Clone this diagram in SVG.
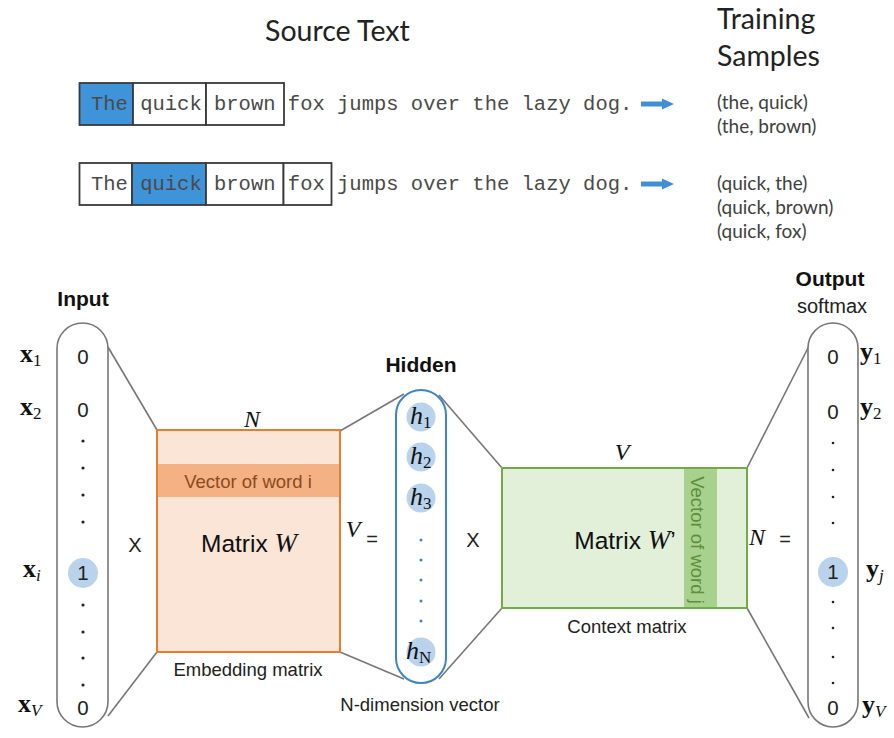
<svg xmlns="http://www.w3.org/2000/svg" width="894" height="738" viewBox="0 0 894 738">
  <defs>
    <style>
      .title { font-family: Lato, "Open Sans", sans-serif; font-size: 28.5px; fill: #222; }
      .sample { font-family: Lato, "Open Sans", sans-serif; font-size: 19px; fill: #404040; }
      .mono { font-family: "Liberation Mono", "DejaVu Sans Mono", monospace; font-size: 20.5px; fill: #4a4a4a; }
      .cell { fill: #fff; stroke: #3a3a3a; stroke-width: 1.8; }
      .cell.hi { fill: #3f93d8; }
      .head { font-family: "Liberation Sans", Arial, sans-serif; font-size: 21px; font-weight: bold; fill: #111; text-anchor: middle; }
      .lbl { font-family: "Liberation Sans", Arial, sans-serif; font-size: 18.5px; fill: #222; text-anchor: middle; }
      .num { font-family: "Liberation Sans", Arial, sans-serif; font-size: 20.5px; fill: #222; text-anchor: middle; }
      .op { font-family: "Liberation Sans", Arial, sans-serif; font-size: 20px; fill: #222; text-anchor: middle; }
      .mat { font-family: "Liberation Sans", Arial, sans-serif; font-size: 24.5px; fill: #111; text-anchor: middle; }
      .mi { font-family: "Liberation Serif", "Times New Roman", serif; font-style: italic; font-size: 27px; }
      .dim { font-family: "Liberation Serif", "Times New Roman", serif; font-style: italic; font-size: 24px; fill: #111; text-anchor: middle; }
      .vec { font-family: "Liberation Serif", "Times New Roman", serif; font-weight: bold; font-size: 26px; fill: #111; }
      .sub { font-weight: normal; font-size: 17px; }
      .subi { font-weight: normal; font-style: italic; font-size: 17px; }
      .hv { font-family: "Liberation Serif", "Times New Roman", serif; font-style: italic; font-size: 26px; fill: #111; }
      .hsub { font-style: normal; font-size: 17px; }
      .pill { fill: #fff; stroke: #777; stroke-width: 1.6; }
      .pill.blue { stroke: #3d85c6; stroke-width: 2; }
      .dot { fill: #222; }
      .bdot { fill: #3d85c6; }
      .hot { fill: #b9d3ec; }
      .link { stroke: #777; stroke-width: 1.6; fill: none; }
      .arrow { stroke: #3f8fd4; stroke-width: 5; fill: none; }
      .arrowhead { fill: #3f8fd4; }
    </style>
  </defs>

  <!-- Source text with the sliding context window -->
  <text class="title" x="265" y="41">Source Text</text>

  <g id="window-1">
    <rect class="cell hi" x="79.5" y="83" width="53.5" height="42"/>
    <rect class="cell" x="133" y="83" width="73" height="42"/>
    <rect class="cell" x="206" y="83" width="78" height="42"/>
    <text class="mono" x="91" y="110">The quick brown fox jumps over the lazy dog.</text>
    <line class="arrow" x1="641" y1="104" x2="664" y2="104"/>
    <polygon class="arrowhead" points="662,98.5 674,104 662,109.5"/>
  </g>

  <g id="window-2">
    <rect class="cell" x="79.5" y="163" width="52.5" height="42"/>
    <rect class="cell hi" x="132" y="163" width="74" height="42"/>
    <rect class="cell" x="206" y="163" width="77.5" height="42"/>
    <rect class="cell" x="283.5" y="163" width="48" height="42"/>
    <text class="mono" x="91" y="190">The quick brown fox jumps over the lazy dog.</text>
    <line class="arrow" x1="641" y1="184" x2="664" y2="184"/>
    <polygon class="arrowhead" points="662,178.5 674,184 662,189.5"/>
  </g>

  <g id="training-samples">
    <text class="title" x="717" y="29">Training</text>
    <text class="title" x="717" y="66">Samples</text>
    <text class="sample" x="717" y="109">(the, quick)</text>
    <text class="sample" x="717" y="133">(the, brown)</text>
    <text class="sample" x="717" y="190">(quick, the)</text>
    <text class="sample" x="717" y="214">(quick, brown)</text>
    <text class="sample" x="717" y="238">(quick, fox)</text>
  </g>

  <!-- Connectors between the network layers -->
  <g id="connectors">
    <line class="link" x1="108" y1="347" x2="157" y2="430"/>
    <line class="link" x1="108" y1="716" x2="157" y2="652"/>
    <line class="link" x1="340" y1="431" x2="404" y2="394"/>
    <line class="link" x1="340" y1="652" x2="404" y2="679"/>
    <line class="link" x1="439" y1="395" x2="502" y2="468"/>
    <line class="link" x1="439" y1="679" x2="502" y2="608"/>
    <line class="link" x1="747" y1="468" x2="809" y2="346"/>
    <line class="link" x1="747" y1="608" x2="809" y2="718"/>
  </g>

  <!-- Input one-hot vector -->
  <g id="input">
    <text class="head" x="83" y="306">Input</text>
    <rect class="pill" x="57" y="323" width="51" height="404" rx="25.5"/>
    <text class="num" x="83" y="364">0</text>
    <text class="num" x="83" y="417">0</text>
    <circle class="dot" cx="83" cy="441" r="1.6"/>
    <circle class="dot" cx="83" cy="468" r="1.6"/>
    <circle class="dot" cx="83" cy="495" r="1.6"/>
    <circle class="dot" cx="83" cy="522" r="1.6"/>
    <circle class="hot" cx="83" cy="573" r="15"/>
    <text class="num" x="83" y="580">1</text>
    <circle class="dot" cx="83" cy="605" r="1.6"/>
    <circle class="dot" cx="83" cy="632" r="1.6"/>
    <circle class="dot" cx="83" cy="658" r="1.6"/>
    <circle class="dot" cx="83" cy="685" r="1.6"/>
    <text class="num" x="83" y="715">0</text>
    <text class="vec" x="20" y="362">x<tspan class="sub" dy="4">1</tspan></text>
    <text class="vec" x="20" y="415">x<tspan class="sub" dy="4">2</tspan></text>
    <text class="vec" x="23" y="577">x<tspan class="subi" dy="4">i</tspan></text>
    <text class="vec" x="18" y="712">x<tspan class="subi" dy="4">V</tspan></text>
  </g>

  <text class="op" x="135" y="552">X</text>

  <!-- Embedding matrix W -->
  <g id="matrix-w">
    <text class="dim" x="252" y="427">N</text>
    <rect x="157" y="430" width="183" height="222" fill="#fbe5d6" stroke="#e67e30" stroke-width="2"/>
    <rect x="158" y="464" width="181" height="33" fill="#f4b183"/>
    <text class="lbl" x="248" y="488" style="fill:#8c4a1e">Vector of word i</text>
    <text class="mat" x="249" y="552">Matrix <tspan class="mi">W</tspan></text>
    <text class="lbl" x="248" y="676">Embedding matrix</text>
  </g>

  <text class="dim" x="353" y="537">V</text>
  <text class="op" x="372" y="546">=</text>

  <!-- Hidden layer -->
  <g id="hidden">
    <text class="head" x="421" y="372">Hidden</text>
    <rect class="pill blue" x="396" y="390" width="50" height="293" rx="25"/>
    <circle class="hot" cx="421" cy="417" r="14.5"/>
    <text class="hv" x="410" y="424">h<tspan class="hsub" dy="4">1</tspan></text>
    <circle class="hot" cx="421" cy="457" r="14.5"/>
    <text class="hv" x="410" y="464">h<tspan class="hsub" dy="4">2</tspan></text>
    <circle class="hot" cx="421" cy="498" r="14.5"/>
    <text class="hv" x="410" y="505">h<tspan class="hsub" dy="4">3</tspan></text>
    <circle class="bdot" cx="421" cy="540" r="1.5"/>
    <circle class="bdot" cx="421" cy="560" r="1.5"/>
    <circle class="bdot" cx="421" cy="580" r="1.5"/>
    <circle class="bdot" cx="421" cy="601" r="1.5"/>
    <circle class="bdot" cx="421" cy="621" r="1.5"/>
    <circle class="hot" cx="421" cy="652" r="14.5"/>
    <text class="hv" x="406" y="659">h<tspan class="hsub" dy="4">N</tspan></text>
    <text class="lbl" x="420" y="711">N-dimension vector</text>
  </g>

  <text class="op" x="473" y="547">X</text>

  <!-- Context matrix W' -->
  <g id="matrix-w-prime">
    <text class="dim" x="622" y="460">V</text>
    <rect x="502" y="468" width="245" height="140" fill="#e2f0d9" stroke="#70ad47" stroke-width="2"/>
    <rect x="684" y="469" width="33" height="138" fill="#a9d18e"/>
    <text class="lbl" x="697" y="540" dominant-baseline="central" transform="rotate(90 697 540)" style="fill:#5b8f3b">Vector of word j</text>
    <text class="mat" x="625" y="549">Matrix <tspan class="mi">W</tspan>’</text>
    <text class="lbl" x="627" y="633">Context matrix</text>
  </g>

  <text class="dim" x="757" y="545">N</text>
  <text class="op" x="785" y="546">=</text>

  <!-- Output softmax vector -->
  <g id="output">
    <text class="head" x="830" y="286">Output</text>
    <text class="lbl" x="832" y="313" style="font-size:20px">softmax</text>
    <rect class="pill" x="808" y="323" width="50" height="404" rx="25"/>
    <text class="num" x="833" y="364">0</text>
    <text class="num" x="833" y="419">0</text>
    <circle class="dot" cx="833" cy="443" r="1.3"/>
    <circle class="dot" cx="833" cy="470" r="1.3"/>
    <circle class="dot" cx="833" cy="497" r="1.3"/>
    <circle class="dot" cx="833" cy="523" r="1.3"/>
    <circle class="hot" cx="833" cy="572" r="15"/>
    <text class="num" x="833" y="579">1</text>
    <circle class="dot" cx="833" cy="602" r="1.3"/>
    <circle class="dot" cx="833" cy="628" r="1.3"/>
    <circle class="dot" cx="833" cy="657" r="1.3"/>
    <circle class="dot" cx="833" cy="683" r="1.3"/>
    <text class="num" x="833" y="715">0</text>
    <text class="vec" x="860" y="360">y<tspan class="sub" dy="4">1</tspan></text>
    <text class="vec" x="860" y="415">y<tspan class="sub" dy="4">2</tspan></text>
    <text class="vec" x="866" y="577">y<tspan class="subi" dy="4">j</tspan></text>
    <text class="vec" x="862" y="713">y<tspan class="subi" dy="4">V</tspan></text>
  </g>
</svg>
